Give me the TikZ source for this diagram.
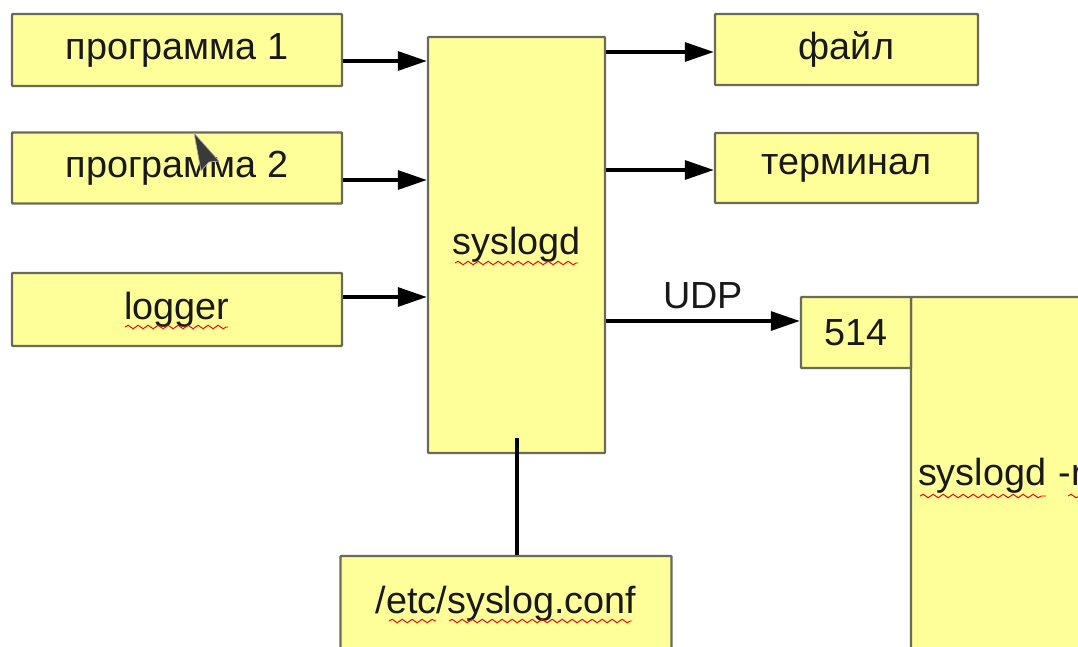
\documentclass[tikz,border=0pt]{standalone}
\usepackage{fontspec}
\setmainfont{Liberation Sans}
\usetikzlibrary{arrows.meta,decorations.pathmorphing}
\definecolor{boxfill}{HTML}{FFFF99}
\definecolor{boxline}{HTML}{6A6A5A}
\definecolor{cursorgray}{HTML}{3A3A3A}
\tikzset{
  box/.style={draw=boxline, line width=1.4pt, fill=boxfill, rounded corners=0.5pt,
    inner sep=0pt, font=\fontsize{21.5}{24}\selectfont, text=black!90},
  arr/.style={line width=1.9pt, -{Triangle[length=0.58cm,width=0.38cm]}},
  link/.style={line width=1.9pt},
  spell/.style={red, line width=0.55pt, decorate,
    decoration={snake, amplitude=0.035cm, segment length=0.2cm}},
  lbl/.style={font=\fontsize{21.5}{24}\selectfont, text=black!90, inner sep=0pt}
}
\newcommand{\pxw}[1]{#1*0.02cm}
\begin{document}
\begin{tikzpicture}[x=0.02cm, y=-0.02cm]
  \useasboundingbox (0,0) rectangle (1078,646);
  \clip (0,0) rectangle (1078,646);

  % sources
  \node[box, minimum width=\pxw{330}, minimum height=\pxw{72}] (p1) at (177,50) {программа 1};
  \node[box, minimum width=\pxw{330}, minimum height=\pxw{71}] (p2) at (177,168) {программа 2};
  \node[box, minimum width=\pxw{330}, minimum height=\pxw{73}] (lg) at (177,309.5) {logger};

  % daemon
  \node[box, minimum width=\pxw{177}, minimum height=\pxw{416}] (sd) at (516.5,245) {syslogd};

  % destinations
  \node[box, minimum width=\pxw{263}, minimum height=\pxw{71}] (file) at (846.5,49.5) {файл};
  \node[box, minimum width=\pxw{263}, minimum height=\pxw{70}] (term) at (846.5,168) {терминал};

  % remote host
  \node[box, minimum width=\pxw{200}, minimum height=\pxw{358}, text width=\pxw{186},
        align=left] (srv) at (1011,476) {syslogd -r};
  \node[box, minimum width=\pxw{110}, minimum height=\pxw{71}] (port) at (856,332.5) {514};

  % configuration
  \node[box, minimum width=\pxw{331}, minimum height=\pxw{110}] (conf) at (506,611) {};
  \node[lbl] (conftxt) at (506,604) {/etc/syslog.conf};

  % connectors
  \draw[arr] (p1.east |- 0,61) -- (sd.west |- 0,61);
  \draw[arr] (p2.east |- 0,180) -- (sd.west |- 0,180);
  \draw[arr] (lg.east |- 0,297) -- (sd.west |- 0,297);
  \draw[arr] (sd.east |- 0,52) -- (file.west |- 0,52);
  \draw[arr] (sd.east |- 0,170) -- (term.west |- 0,170);
  \draw[arr] (sd.east |- 0,321) -- node[lbl, above=0.2cm] (udp) {UDP} (port.west |- 0,321);
  \coordinate (sdin) at (517,438);
  \draw[link] (sdin) -- (sdin |- conf.north);

  % spell-check underlines
  \draw[spell] (455,263) -- (578,263);
  \draw[spell] (125,327) -- (228,327);
  \draw[spell] (389,621) -- (436,621);
  \draw[spell] (449,621) -- (632,621);
  \draw[spell] (920,496) -- (1046,496);
  \draw[spell] (1068,496) -- (1080,496);

  % mouse pointer
  \draw[gray!60, fill=cursorgray, line width=0.4pt, line join=round]
    (194,133) -- (219,161) -- (209,162) -- (201,171) -- cycle;
\end{tikzpicture}
\end{document}
